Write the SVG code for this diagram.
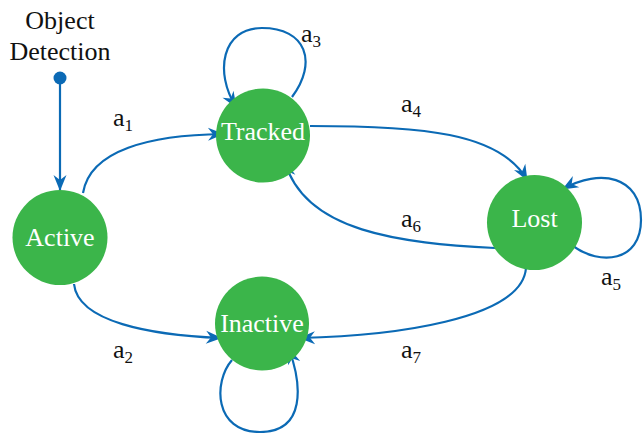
<svg xmlns="http://www.w3.org/2000/svg" width="644" height="433" viewBox="0 0 644 433">
<style>
.node{fill:#3bb54a}
.nt{font-family:"Liberation Serif","DejaVu Serif","Times New Roman",serif;font-size:26px;fill:#ffffff;text-anchor:middle}
.lbl{font-family:"Liberation Serif","DejaVu Serif","Times New Roman",serif;font-size:26px;fill:#111111}
.sub{font-size:17px}
.edge{fill:none;stroke:#0b6ab5;stroke-width:2.2;marker-end:url(#arr)}
</style>
<defs>
<marker id="arr" viewBox="-16 -8 17 16" markerWidth="17" markerHeight="16" refX="0" refY="0" orient="auto" markerUnits="userSpaceOnUse">
<path d="M1,0 L-15,-6.5 L-10,0 L-15,6.5 Z" fill="#0b6ab5"/>
</marker>
</defs>
<rect width="644" height="433" fill="#ffffff"/>
<g id="connectors">
<circle cx="60" cy="78" r="6.5" fill="#0b6ab5"/>
<path class="edge" d="M60,78 L60,190"/>
<path class="edge" d="M83,193 C90,150 150,135 223,134"/>
<path class="edge" d="M74,284 C78,322 150,335 221,338"/>
<path class="edge" d="M292,97 C318,62 306,28 262,28 C222,28 214,72 236,107"/>
<path class="edge" d="M310,126 C420,126 500,132 527,180"/>
<path class="edge" d="M495,248 C400,243 305,232 285,162"/>
<path class="edge" d="M573,246 C600,266 641,262 641,220 C641,176 600,168 563,189"/>
<path class="edge" d="M526,268 C522,320 390,336 300,338"/>
<path class="edge" d="M232,360 C213,382 214,432 260,432 C306,432 302,385 289,349"/>
</g>
<g id="object-detection">
<text class="lbl" x="60" y="29" text-anchor="middle" font-family="Liberation Serif, serif">Object</text>
<text class="lbl" x="60" y="60" text-anchor="middle" font-family="Liberation Serif, serif">Detection</text>
</g>
<g id="active">
<circle class="node" cx="60" cy="237.5" r="47.5"/>
<text class="nt" x="60" y="246">Active</text>
</g>
<g id="tracked">
<circle class="node" cx="263" cy="135.5" r="47"/>
<text class="nt" x="263" y="140">Tracked</text>
</g>
<g id="lost">
<circle class="node" cx="534.5" cy="222.5" r="47.5"/>
<text class="nt" x="534.5" y="227">Lost</text>
</g>
<g id="inactive">
<circle class="node" cx="262" cy="323.5" r="47"/>
<text class="nt" x="262" y="332">Inactive</text>
</g>
<g id="labels">
<text class="lbl" x="113" y="126">a<tspan class="sub" dy="5">1</tspan></text>
<text class="lbl" x="113" y="358">a<tspan class="sub" dy="5">2</tspan></text>
<text class="lbl" x="301" y="42">a<tspan class="sub" dy="5">3</tspan></text>
<text class="lbl" x="401" y="112">a<tspan class="sub" dy="5">4</tspan></text>
<text class="lbl" x="601" y="285">a<tspan class="sub" dy="5">5</tspan></text>
<text class="lbl" x="401" y="227">a<tspan class="sub" dy="5">6</tspan></text>
<text class="lbl" x="401" y="358">a<tspan class="sub" dy="5">7</tspan></text>
</g>
</svg>
